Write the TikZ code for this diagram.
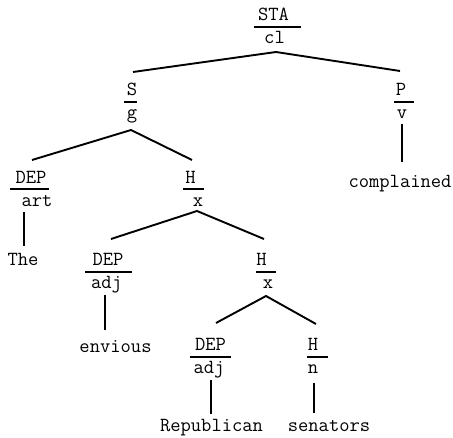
\documentclass[tikz,border=0pt]{standalone}
\usepackage{fontspec}
\begin{document}
\begin{tikzpicture}[x=1pt,y=-1pt,
  lbl/.style={inner sep=0pt,anchor=base,font=\ttfamily\fontsize{20}{22}\selectfont},
  spaced/.style={font=\ttfamily\fontsize{20}{22}\selectfont\addfontfeature{LetterSpace=18}},
  rulebar/.style={line width=2.4pt},
  edge/.style={line width=1.9pt}]
\useasboundingbox (0,0) rectangle (453,438);

% --- root
\node[lbl] (sta) at (273.5,21) {STA};
\node[lbl] (cl)  at (274.5,44) {cl};
\draw[rulebar] (254,27) -- (301,27);
% --- subject
\node[lbl] (s) at (132,96) {S};
\node[lbl] (g) at (132,119) {g};
\draw[rulebar] (124,102) -- (137,102);
% --- predicator
\node[lbl] (p) at (401,96) {P};
\node[lbl] (v) at (402,119) {v};
\draw[rulebar] (394,102) -- (414,102);
\node[lbl] (complained) at (400,188) {complained};
% --- determiner
\node[lbl,spaced] (dep1) at (31,184) {DEP};
\node[lbl] (art)  at (37,207) {art};
\draw[rulebar] (10,189) -- (49,189);
\node[lbl] (the) at (23,266) {The};
% --- head
\node[lbl] (h1) at (190.5,184) {H};
\node[lbl] (x1) at (198,207) {x};
\draw[rulebar] (183,189) -- (204,189);
% --- modifier
\node[lbl,spaced] (dep2) at (108,266) {DEP};
\node[lbl] (adj2) at (106.5,289) {adj};
\draw[rulebar] (85,272) -- (132,272);
\node[lbl] (envious) at (115.5,353) {envious};
% --- inner head
\node[lbl] (h2) at (261.5,266) {H};
\node[lbl] (x2) at (268,289) {x};
\draw[rulebar] (256,272) -- (276,272);
% --- inner modifier
\node[lbl,spaced] (dep3) at (210.5,351) {DEP};
\node[lbl] (adj3) at (209,374) {adj};
\draw[rulebar] (190,357) -- (231,357);
\node[lbl] (republican) at (211.5,432) {Republican};
% --- noun head
\node[lbl] (h3) at (313,351) {H};
\node[lbl] (n3) at (313,374) {n};
\draw[rulebar] (307,357) -- (328,357);
\node[lbl] (senators) at (329,432) {senators};

% connector end points
\coordinate (cl-a) at (276,52);
\coordinate (s-t)  at (133,72);
\coordinate (p-t)  at (400,71);
\coordinate (g-a)  at (131,130);
\coordinate (dep1-t) at (32,160);
\coordinate (h1-t) at (192,160);
\coordinate (v-a) at (402,124);
\coordinate (comp-t) at (402,162);
\coordinate (art-a) at (24,212);
\coordinate (the-t) at (24,246);
\coordinate (x1-a) at (197,211);
\coordinate (dep2-t) at (111,239);
\coordinate (h2-t) at (264,239);
\coordinate (adj2-a) at (105,295);
\coordinate (env-t) at (105,330);
\coordinate (x2-a) at (266,296);
\coordinate (dep3-t) at (216,323);
\coordinate (h3-t) at (316,324);
\coordinate (adj3-a) at (211,380);
\coordinate (rep-t) at (211,414);
\coordinate (n3-a) at (314,383);
\coordinate (sen-t) at (314,413);

\draw[edge] (s-t) -- (cl-a) -- (p-t);
\draw[edge] (dep1-t) -- (g-a) -- (h1-t);
\draw[edge] (v-a) -- (comp-t);
\draw[edge] (art-a) -- (the-t);
\draw[edge] (dep2-t) -- (x1-a) -- (h2-t);
\draw[edge] (adj2-a) -- (env-t);
\draw[edge] (dep3-t) -- (x2-a) -- (h3-t);
\draw[edge] (adj3-a) -- (rep-t);
\draw[edge] (n3-a) -- (sen-t);
\end{tikzpicture}
\end{document}
